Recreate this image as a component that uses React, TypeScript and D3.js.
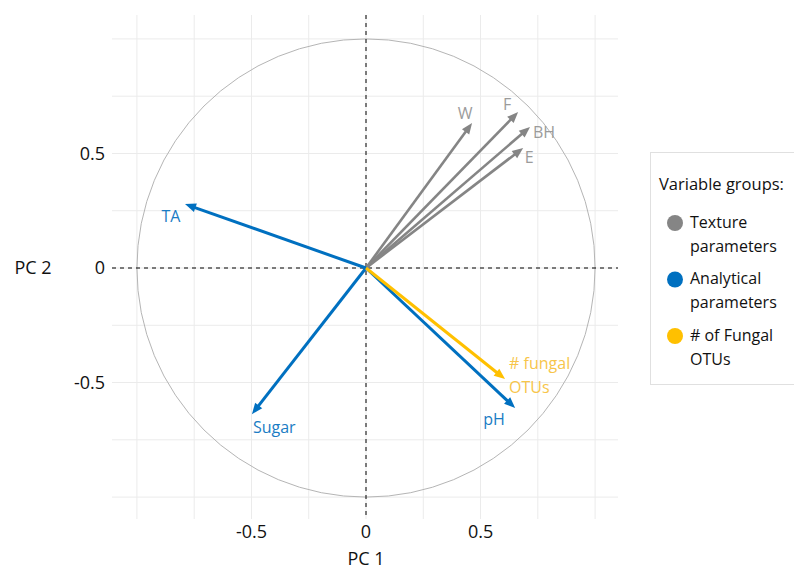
import React from "react";
import { scaleLinear, range } from "d3";

// PCA loadings
const variables = ["W", "F", "BH", "E", "TA", "Sugar", "pH", "# fungal OTUs"];
const groups = ["texture", "texture", "texture", "texture", "analytical", "analytical", "analytical", "fungal"];
const pc1 = [0.463, 0.664, 0.716, 0.686, -0.79, -0.498, 0.651, 0.607];
const pc2 = [0.633, 0.681, 0.616, 0.524, 0.279, -0.638, -0.611, -0.485];

const legendTitle = "Variable groups:";
const groupKeys = ["texture", "analytical", "fungal"];
const groupLabels = [["Texture", "parameters"], ["Analytical", "parameters"], ["# of Fungal", "OTUs"]];
const tickValues = [-0.5, 0, 0.5];

const arrowColor = { texture: "#858585", analytical: "#0070C0", fungal: "#FFC000" };
const labelColor = { texture: "#9b9b9b", analytical: "#1a7cc4", fungal: "#F7C54A" };

// label placement relative to arrow tip (px), anchor
const labelPos = {
  W: [-7, -10, "middle"],
  F: [-11, -8, "middle"],
  BH: [14, 6, "middle"],
  E: [6, 9, "middle"],
  TA: [-14, 12, "middle"],
  Sugar: [1, 13, "start"],
  pH: [-21, 11, "middle"],
  "# fungal OTUs": [4, -16, "start"],
};

const font = "'Open Sans', 'Noto Sans', sans-serif";

const App = () => {
  const width = 794;
  const height = 572;
  const x = scaleLinear().domain([-1.1, 1.1]).range([114, 618]);
  const y = scaleLinear().domain([-1.1, 1.1]).range([520, 16]);
  const gridVals = range(-1, 1.001, 0.25);
  const r = x(1) - x(0);

  const arrowHead = (x0, y0, x1, y1, len = 11, half = 4.5) => {
    const a = Math.atan2(y1 - y0, x1 - x0);
    const bx = x1 - len * Math.cos(a);
    const by = y1 - len * Math.sin(a);
    const px = -Math.sin(a) * half;
    const py = Math.cos(a) * half;
    return {
      pts: `${x1},${y1} ${bx + px},${by + py} ${bx - px},${by - py}`,
      sx: x1 - (len - 2) * Math.cos(a),
      sy: y1 - (len - 2) * Math.sin(a),
    };
  };

  return (
    <svg width={width} height={height} style={{ position: "absolute", left: 0, top: 0, background: "#fff" }} fontFamily={font}>
      {/* grid */}
      <g stroke="#ebebeb" strokeWidth={1}>
        {gridVals.map((v) => (
          <line key={"gx" + v} x1={x(v)} x2={x(v)} y1={15} y2={519} />
        ))}
        {gridVals.map((v) => (
          <line key={"gy" + v} x1={112} x2={618} y1={y(v)} y2={y(v)} />
        ))}
      </g>

      {/* correlation circle */}
      <circle cx={x(0)} cy={y(0)} r={r} fill="none" stroke="#b5b5b5" strokeWidth={1} />

      {/* zero lines */}
      <g stroke="#000" strokeWidth={1} strokeDasharray="4,4">
        <line x1={112} x2={618} y1={y(0)} y2={y(0)} />
        <line x1={x(0)} x2={x(0)} y1={15} y2={519} />
      </g>

      {/* arrows */}
      {variables.map((v, i) => {
        const g = groups[i];
        const x0 = x(0), y0 = y(0), x1 = x(pc1[i]), y1 = y(pc2[i]);
        const h = arrowHead(x0, y0, x1, y1);
        return (
          <g key={v}>
            <line x1={x0} y1={y0} x2={h.sx} y2={h.sy} stroke={arrowColor[g]} strokeWidth={g === "texture" ? 2.6 : 3} />
            <polygon points={h.pts} fill={arrowColor[g]} />
          </g>
        );
      })}

      {/* arrow labels */}
      {variables.map((v, i) => {
        const g = groups[i];
        const [dx, dy, anchor] = labelPos[v];
        const lx = x(pc1[i]) + dx;
        const ly = y(pc2[i]) + dy;
        const lines = v === "# fungal OTUs" ? ["# fungal", "OTUs"] : [v];
        return (
          <text key={"l" + v} x={lx} y={ly} fill={labelColor[g]} fontSize={16} textAnchor={anchor}>
            {lines.map((t, j) => (
              <tspan key={t} x={lx} dy={j === 0 ? "0.35em" : 24}>{t}</tspan>
            ))}
          </text>
        );
      })}

      {/* axes */}
      {tickValues.map((t) => (
        <text key={"tx" + t} x={x(t)} y={532} dy="0.35em" textAnchor="middle" fontSize={18} fill="#111">
          {t === 0 ? "0" : t}
        </text>
      ))}
      {tickValues.map((t) => (
        <text key={"ty" + t} x={105} y={y(t)} dy="0.35em" textAnchor="end" fontSize={18} fill="#111">
          {t === 0 ? "0" : t}
        </text>
      ))}
      <text x={x(0)} y={559} dy="0.35em" textAnchor="middle" fontSize={18} fill="#111">PC 1</text>
      <text x={33} y={y(0)} dy="0.35em" textAnchor="middle" fontSize={18} fill="#111">PC 2</text>

      {/* legend */}
      <rect x={650.5} y={152.5} width={160} height={232} fill="#fff" stroke="#e0e0e0" strokeWidth={1} />
      <text x={659} y={184} dy="0.35em" fontSize={16.5} fill="#111">{legendTitle}</text>
      {groupKeys.map((k, i) => {
        const cy = 223 + i * 56.5;
        return (
          <g key={k}>
            <circle cx={675} cy={cy} r={8} fill={arrowColor[k]} />
            <text x={690} y={cy - 1} dy="0.35em" fontSize={16} fill="#111">{groupLabels[i][0]}</text>
            <text x={690} y={cy + 23} dy="0.35em" fontSize={16} fill="#111">{groupLabels[i][1]}</text>
          </g>
        );
      })}
    </svg>
  );
};

export default App;
